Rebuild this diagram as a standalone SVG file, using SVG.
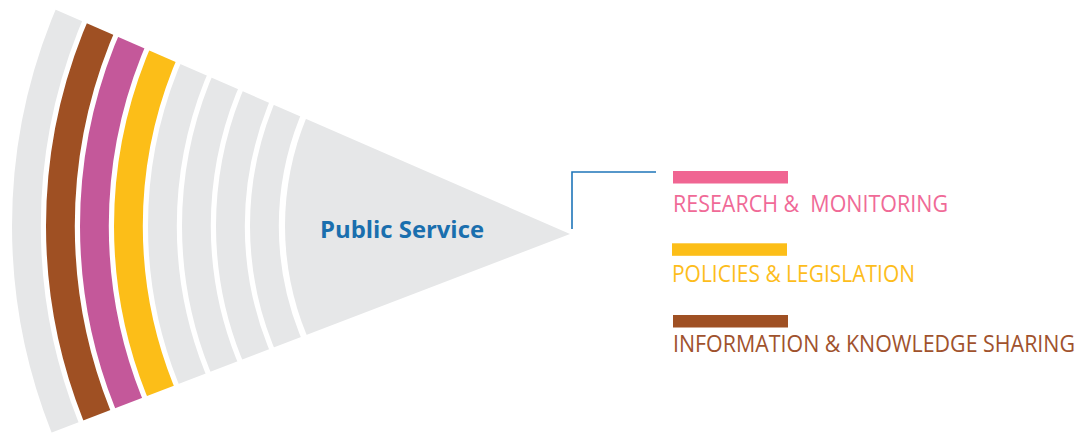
<svg xmlns="http://www.w3.org/2000/svg" width="1082" height="434" viewBox="0 0 1082 434">
  <style>
    .band { fill: none; stroke-width: 28.8; }
    .gray { stroke: #e6e7e8; }
    .brown { stroke: #9f5023; }
    .pink { stroke: #c4589a; }
    .yellow { stroke: #fcbe18; }
    .lbl { font-family: "Open Sans", "Liberation Sans", sans-serif; font-size: 21px; }
    .title { font-family: "Open Sans", "Liberation Sans", sans-serif; font-size: 24px; font-weight: bold; fill: #1a6fae; }
    .conn { fill: none; stroke: #1f75b9; stroke-width: 1.6; }
  </style>
  <defs>
    <clipPath id="wedge">
      <polygon points="570,234 -20,-23.3 -20,460"/>
    </clipPath>
  </defs>
  <rect width="1082" height="434" fill="#ffffff"/>
  <g id="fan" clip-path="url(#wedge)">
    <circle class="band gray" cx="570" cy="226" r="543.6"/>
    <circle class="band brown" cx="570" cy="226" r="509.6"/>
    <circle class="band pink" cx="570" cy="226" r="475.6"/>
    <circle class="band yellow" cx="570" cy="226" r="441.6"/>
    <circle class="band gray" cx="570" cy="226" r="407.6"/>
    <circle class="band gray" cx="570" cy="226" r="373.6"/>
    <circle class="band gray" cx="570" cy="226" r="339.6"/>
    <circle class="band gray" cx="570" cy="226" r="305.6"/>
    <circle cx="570" cy="226" r="285" fill="#e6e7e8"/>
  </g>
  <g id="public-service">
    <text class="title" x="320" y="238" textLength="164" lengthAdjust="spacingAndGlyphs">Public Service</text>
  </g>
  <g id="connectors">
    <polyline class="conn" points="572,229 572,172 656,172"/>
  </g>
  <g id="research-monitoring">
    <rect x="673" y="171" width="115" height="12.5" fill="#f06592"/>
    <text class="lbl" transform="translate(673,211.5) scale(1,1.1)" x="0" y="0" fill="#f06a97" textLength="275" lengthAdjust="spacingAndGlyphs" xml:space="preserve">RESEARCH &amp;  MONITORING</text>
  </g>
  <g id="policies-legislation">
    <rect x="672" y="243.3" width="115" height="12.5" fill="#fcbe18"/>
    <text class="lbl" transform="translate(672,281.5) scale(1,1.1)" x="0" y="0" fill="#fdbd1c" textLength="243" lengthAdjust="spacingAndGlyphs">POLICIES &amp; LEGISLATION</text>
  </g>
  <g id="information-knowledge-sharing">
    <rect x="673" y="315" width="115" height="12.5" fill="#9f5023"/>
    <text class="lbl" transform="translate(673,351.5) scale(1,1.1)" x="0" y="0" fill="#a0522d" textLength="402" lengthAdjust="spacingAndGlyphs">INFORMATION &amp; KNOWLEDGE SHARING</text>
  </g>
</svg>
